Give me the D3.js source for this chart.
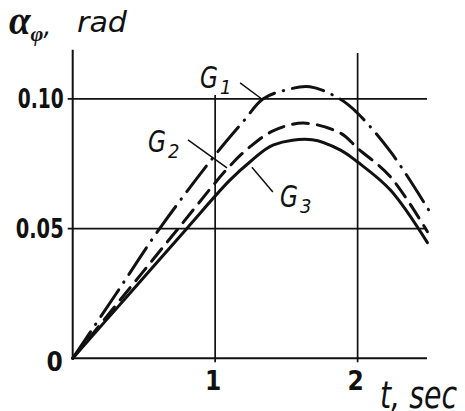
<!DOCTYPE html>
<html>
<head>
<meta charset="utf-8">
<script src="https://cdn.jsdelivr.net/npm/d3@7"></script>
<style>
  body { margin: 0; background: #fff; }
  svg { display: block; }
  .tick-label { font-family: "DejaVu Sans Condensed", "DejaVu Sans", sans-serif; font-stretch: condensed; font-weight: bold; font-size: 26px; fill: #111; }
  .gost { font-family: "DejaVu Sans Condensed", "DejaVu Sans", sans-serif; font-stretch: condensed; font-style: italic; fill: #111; }
</style>
</head>
<body>
<div id="chart"></div>
<script>
// time (sec) and angle (rad)
const tG1 = [0, 0.3, 0.61, 1.0, 1.2, 1.335, 1.5, 1.665, 1.876, 2.0, 2.24, 2.52];
const G1  = [0, 0.0245, 0.050, 0.0784, 0.0915, 0.100, 0.1035, 0.1047, 0.100, 0.0945, 0.079, 0.0553];

const tG2 = [0, 0.37, 0.74, 1.1, 1.25, 1.41, 1.62, 1.88, 2.0, 2.23, 2.49];
const G2  = [0, 0.025, 0.050, 0.0740, 0.0818, 0.0878, 0.0907, 0.0868, 0.0810, 0.0700, 0.0488];

const tG3 = [0, 0.4, 0.8, 1.1, 1.25, 1.41, 1.68, 1.88, 2.0, 2.23, 2.49];
const G3  = [0, 0.025, 0.050, 0.0685, 0.0760, 0.0823, 0.0843, 0.0803, 0.0757, 0.0649, 0.0446];

const xTicks = [1, 2];
const yTicks = [0.05, 0.10];
const yTickLabels = ['0.05', '0.10'];

(function() {
    const width = 465;
    const height = 411;

    const x = d3.scaleLinear().domain([0, 2.487]).range([72.7, 427]);
    const y = d3.scaleLinear().domain([0, 0.119]).range([358.3, 49.7]);

    const svg = d3.select('#chart')
        .append('svg')
        .attr('width', width)
        .attr('height', height);

    // grid
    svg.selectAll('.hgrid')
        .data(yTicks)
        .enter()
        .append('line')
        .attr('x1', x(0) - 5)
        .attr('x2', x(2.487))
        .attr('y1', d => y(d))
        .attr('y2', d => y(d))
        .attr('stroke', '#111')
        .attr('stroke-width', 1.7);

    const vTop = [0.1015, 0.1177];
    svg.selectAll('.vgrid')
        .data(xTicks)
        .enter()
        .append('line')
        .attr('x1', d => x(d))
        .attr('x2', d => x(d))
        .attr('y1', y(0) + 4)
        .attr('y2', (d, i) => y(vTop[i]))
        .attr('stroke', '#111')
        .attr('stroke-width', 1.7);

    // axes
    svg.append('line')
        .attr('x1', x(0)).attr('x2', x(2.487))
        .attr('y1', y(0)).attr('y2', y(0))
        .attr('stroke', '#111').attr('stroke-width', 2);
    svg.append('line')
        .attr('x1', x(0)).attr('x2', x(0))
        .attr('y1', y(0)).attr('y2', y(0.119))
        .attr('stroke', '#111').attr('stroke-width', 2);

    // tick labels
    svg.selectAll('.ylab')
        .data(yTicks)
        .enter()
        .append('text')
        .attr('class', 'tick-label')
        .attr('x', x(0) - 56)
        .attr('y', d => y(d))
        .attr('dy', '0.36em')
        .attr('textLength', (d, i) => i === 0 ? 48 : 46)
        .attr('dx', (d, i) => i === 0 ? -1 : 1)
        .attr('lengthAdjust', 'spacingAndGlyphs')
        .text((d, i) => yTickLabels[i]);

    svg.append('text')
        .attr('class', 'tick-label')
        .attr('x', x(0) - 10)
        .attr('y', y(0) + 3)
        .attr('dy', '0.36em')
        .attr('text-anchor', 'end')
        .text('0');

    svg.selectAll('.xlab')
        .data(xTicks)
        .enter()
        .append('text')
        .attr('class', 'tick-label')
        .attr('x', d => x(d) - 2)
        .attr('y', y(0) + 32)
        .attr('text-anchor', 'middle')
        .text(d => d);

    // curves
    const series = [
        {t: tG1, v: G1, dash: '32 9 0.5 9'},
        {t: tG2, v: G2, dash: '16 9'},
        {t: tG3, v: G3, dash: null}
    ];

    const line = d3.line()
        .x(d => x(d[0]))
        .y(d => y(d[1]))
        .curve(d3.curveCatmullRom.alpha(0.5));

    svg.selectAll('.curve')
        .data(series)
        .enter()
        .append('path')
        .attr('d', s => line(s.t.map((t, i) => [t, s.v[i]])))
        .attr('fill', 'none')
        .attr('stroke', '#111')
        .attr('stroke-width', 3)
        .attr('stroke-linecap', 'round')
        .attr('stroke-dasharray', s => s.dash);

    // curve labels with leader lines (data units)
    const notes = [
        {name: 'G', sub: '1', t: 0.894, v: 0.1043, from: [1.175, 0.1062], to: [1.337, 0.0996]},
        {name: 'G', sub: '2', t: 0.528, v: 0.0796, from: [0.809, 0.0842], to: [1.083, 0.0734]},
        {name: 'G', sub: '3', t: 1.455, v: 0.0583, from: [1.258, 0.0737], to: [1.405, 0.0641]}
    ];

    notes.forEach(n => {
        svg.append('line')
            .attr('x1', x(n.from[0])).attr('y1', y(n.from[1]))
            .attr('x2', x(n.to[0])).attr('y2', y(n.to[1]))
            .attr('stroke', '#111').attr('stroke-width', 1.5);
        svg.append('text')
            .attr('class', 'gost')
            .attr('x', x(n.t))
            .attr('y', y(n.v))
            .attr('font-size', '31px')
            .attr('textLength', 18)
            .attr('lengthAdjust', 'spacingAndGlyphs')
            .text(n.name);
        svg.append('text')
            .attr('class', 'gost')
            .attr('x', x(n.t) + 20)
            .attr('y', y(n.v) + 6)
            .attr('font-size', '20px')
            .text(n.sub);
    });

    // axis titles
    const yTitle = svg.append('text').attr('x', 9).attr('y', 34);
    yTitle.append('tspan')
        .attr('font-family', '"Liberation Serif", serif')
        .attr('font-style', 'italic')
        .attr('font-weight', 'bold')
        .attr('font-size', '39px')
        .attr('fill', '#111')
        .text('α');
    yTitle.append('tspan')
        .attr('font-family', '"Liberation Serif", serif')
        .attr('font-style', 'italic')
        .attr('font-weight', 'bold')
        .attr('font-size', '22px')
        .attr('fill', '#111')
        .attr('dy', 7)
        .text('φ');
    yTitle.append('tspan')
        .attr('class', 'gost')
        .attr('font-size', '27px')
        .attr('dy', -6)
        .text(',');

    svg.append('text')
        .attr('class', 'gost')
        .attr('x', 77)
        .attr('y', 32)
        .attr('font-size', '28px')
        .attr('textLength', 50)
        .attr('lengthAdjust', 'spacingAndGlyphs')
        .text('rad');

    svg.append('text')
        .attr('class', 'gost')
        .attr('x', 380)
        .attr('y', 408)
        .attr('font-size', '38px')
        .attr('textLength', 77)
        .attr('lengthAdjust', 'spacingAndGlyphs')
        .text('t, sec');
})();
</script>
</body>
</html>
